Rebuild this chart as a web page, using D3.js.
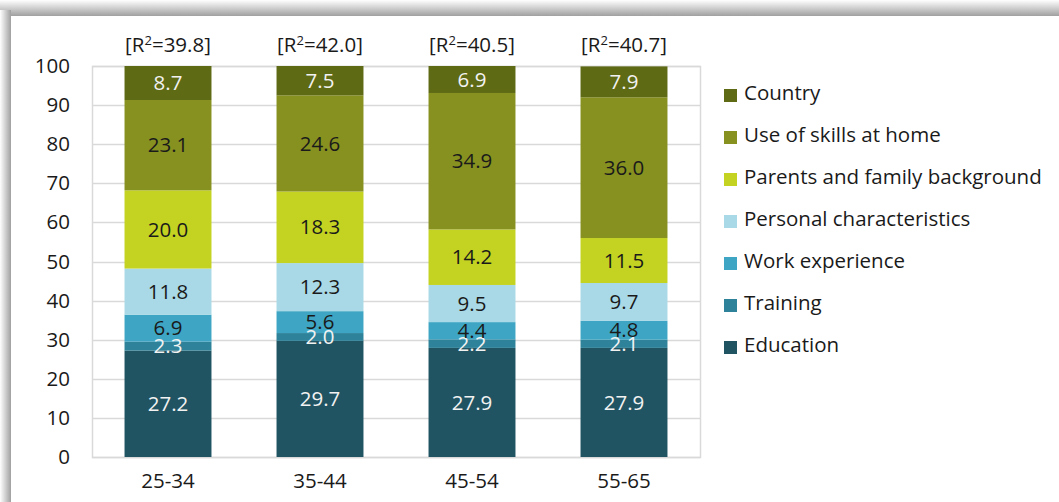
<!DOCTYPE html>
<html>
<head>
<meta charset="utf-8">
<script src="https://cdn.jsdelivr.net/npm/d3@7"></script>
<style>
  html, body { margin: 0; padding: 0; background: #fff; }
  svg text { font-family: "Open Sans", "Noto Sans", sans-serif; }
</style>
</head>
<body>
<svg id="chart" width="1059" height="502"></svg>
<script>
const categories = ["25-34", "35-44", "45-54", "55-65"];
const r2Labels = ["39.8", "42.0", "40.5", "40.7"];
const seriesNames = ["Education", "Training", "Work experience", "Personal characteristics",
  "Parents and family background", "Use of skills at home", "Country"];
const education = [27.2, 29.7, 27.9, 27.9];
const training = [2.3, 2.0, 2.2, 2.1];
const workExperience = [6.9, 5.6, 4.4, 4.8];
const personal = [11.8, 12.3, 9.5, 9.7];
const parents = [20.0, 18.3, 14.2, 11.5];
const useSkills = [23.1, 24.6, 34.9, 36.0];
const country = [8.7, 7.5, 6.9, 7.9];
const yTicks = [0, 10, 20, 30, 40, 50, 60, 70, 80, 90, 100];

const seriesValues = [education, training, workExperience, personal, parents, useSkills, country];
const colors = ["#215462", "#2e8299", "#3ea6c4", "#a9d9e6", "#c4d321", "#879120", "#5f6a14"];
const labelColors = ["#f2f2f2", "#f2f2f2", "#1a1a1a", "#1a1a1a", "#1a1a1a", "#1a1a1a", "#f2f2f2"];

const FS = 20.5;
const svg = d3.select("#chart");
const W = 1059, H = 502;

// frame shadow
const defs = svg.append("defs");
const gTop = defs.append("linearGradient").attr("id", "gTop").attr("x1", 0).attr("y1", 0).attr("x2", 0).attr("y2", 1);
gTop.append("stop").attr("offset", "0%").attr("stop-color", "#ffffff");
gTop.append("stop").attr("offset", "100%").attr("stop-color", "#a0a0a0");
const gLeft = defs.append("linearGradient").attr("id", "gLeft").attr("x1", 0).attr("y1", 0).attr("x2", 1).attr("y2", 0);
gLeft.append("stop").attr("offset", "0%").attr("stop-color", "#ffffff");
gLeft.append("stop").attr("offset", "100%").attr("stop-color", "#a0a0a0");
svg.append("rect").attr("x", 0).attr("y", 0).attr("width", W).attr("height", 16).attr("fill", "url(#gTop)");
svg.append("rect").attr("x", 0).attr("y", 10).attr("width", 11).attr("height", H - 10).attr("fill", "url(#gLeft)");
svg.append("rect").attr("x", 11).attr("y", 16).attr("width", W - 11).attr("height", H - 16).attr("fill", "#ffffff");

const plot = { left: 92, right: 700, top: 66, bottom: 457 };

const x = d3.scaleBand().domain(categories).range([plot.left, plot.right])
  .paddingInner(0.428).paddingOuter(0.214);
const y = d3.scaleLinear().domain([0, 100]).range([plot.bottom, plot.top]);

// gridlines
svg.append("g").selectAll("line").data(yTicks).join("line")
  .attr("x1", plot.left).attr("x2", plot.right)
  .attr("y1", d => Math.round(y(d)) + 0.5).attr("y2", d => Math.round(y(d)) + 0.5)
  .attr("stroke", "#d9d9d9").attr("stroke-width", 1.5);
// plot border
svg.append("rect").attr("x", plot.left + 0.5).attr("y", Math.round(y(100)) + 0.5)
  .attr("width", plot.right - plot.left).attr("height", Math.round(y(0)) - Math.round(y(100)))
  .attr("fill", "none").attr("stroke", "#d9d9d9").attr("stroke-width", 1.5);

// y axis labels
const yAxis = d3.axisLeft(y).tickValues(yTicks).tickSize(0).tickPadding(0);
const yg = svg.append("g").attr("transform", `translate(${70},0)`).call(yAxis);
yg.select(".domain").remove();
yg.selectAll("text").attr("font-size", FS).attr("fill", "#1a1a1a")
  .style("font-family", '"Open Sans", sans-serif');

// x axis labels
const xAxis = d3.axisBottom(x).tickSize(0).tickPadding(0);
const xg = svg.append("g").attr("transform", `translate(0,${473})`).call(xAxis);
xg.select(".domain").remove();
xg.selectAll("text").attr("font-size", FS).attr("fill", "#1a1a1a")
  .style("font-family", '"Open Sans", sans-serif');

// stack data
const table = categories.map((c, i) => {
  const o = { cat: c };
  seriesNames.forEach((s, j) => { o[s] = seriesValues[j][i]; });
  return o;
});
const stacked = d3.stack().keys(seriesNames)(table);

const layers = svg.append("g").selectAll("g").data(stacked).join("g")
  .attr("fill", (d, i) => colors[i]);
layers.selectAll("rect").data(d => d).join("rect")
  .attr("x", d => x(d.data.cat))
  .attr("width", x.bandwidth())
  .attr("y", d => y(d[1]))
  .attr("height", d => y(d[0]) - y(d[1]));

// data labels
const lab = svg.append("g");
stacked.forEach((layer, i) => {
  lab.selectAll(null).data(layer).join("text")
    .attr("x", d => x(d.data.cat) + x.bandwidth() / 2)
    .attr("y", d => y((d[0] + d[1]) / 2))
    .attr("dy", "0.35em")
    .attr("text-anchor", "middle")
    .attr("font-size", FS)
    .attr("fill", labelColors[i])
    .text(d => d3.format(".1f")(d.data[layer.key]));
});

// R² labels
const r2g = svg.append("g");
r2g.selectAll("text").data(categories).join("text")
  .attr("x", d => x(d) + x.bandwidth() / 2)
  .attr("y", 52)
  .attr("text-anchor", "middle")
  .attr("font-size", FS)
  .attr("fill", "#1a1a1a")
  .each(function(d, i) {
    const t = d3.select(this);
    t.append("tspan").text("[R");
    t.append("tspan").attr("dy", -7).attr("font-size", 13).text("2");
    t.append("tspan").attr("dy", 7).text("=" + r2Labels[i] + "]");
  });

// legend
const legendOrder = seriesNames.map((s, i) => i).reverse();
const lg = svg.append("g");
legendOrder.forEach((si, k) => {
  const cy = 93 + k * 42;
  lg.append("rect").attr("x", 724).attr("y", cy - 4).attr("width", 13).attr("height", 13)
    .attr("fill", colors[si]);
  lg.append("text").attr("x", 744).attr("y", cy).attr("dy", "0.35em")
    .attr("font-size", FS).attr("fill", "#1a1a1a").text(seriesNames[si]);
});
</script>
</body>
</html>
